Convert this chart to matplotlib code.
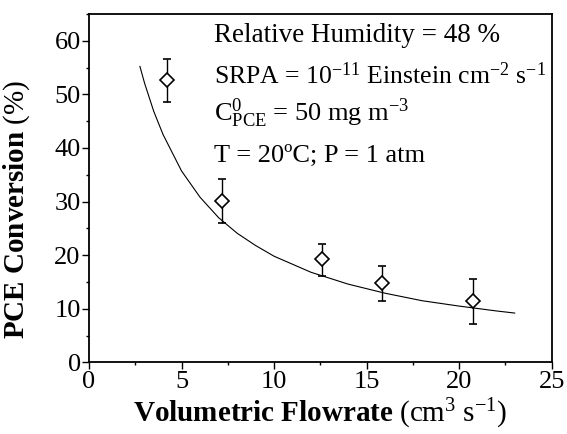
import matplotlib
matplotlib.use("Agg")
import matplotlib.pyplot as plt
from matplotlib.ticker import MultipleLocator

plt.rcParams["font.family"] = ["Liberation Serif", "DejaVu Serif"]
plt.rcParams["mathtext.fontset"] = "custom"
plt.rcParams["mathtext.rm"] = "Liberation Serif"
plt.rcParams["mathtext.it"] = "Liberation Serif:italic"
plt.rcParams["mathtext.bf"] = "Liberation Serif:bold"

# measured points
flowrate = [4.2, 7.2, 12.6, 15.85, 20.75]
conversion = [52.6, 30.1, 19.2, 14.8, 11.4]
err_low = [4.0, 4.1, 3.1, 3.3, 4.3]
err_high = [3.9, 4.1, 2.9, 3.2, 4.1]

# model curve
model_x = [2.75, 3.0, 3.5, 4.0, 5.0, 6.0, 7.0, 8.0, 9.0, 10.0, 12.0, 14.0, 16.0, 18.0, 20.0, 22.0, 23.0]
model_y = [55.2, 52.1, 46.8, 42.5, 35.7, 30.8, 27.0, 24.1, 21.8, 19.8, 16.8, 14.6, 12.9, 11.5, 10.5, 9.6, 9.2]

fig = plt.figure(figsize=(5.67, 4.34), dpi=100)
ax = fig.add_axes([0.157, 0.165, 0.816, 0.803])

ax.plot(model_x, model_y, color="black", lw=0.8)
ax.errorbar(flowrate, conversion, yerr=[err_low, err_high], fmt="D", ms=7,
            mfc="white", mec="black", mew=1.2, ecolor="black", elinewidth=1.0,
            capsize=3, capthick=1.0)

ax.set_xlim(0, 25)
ax.set_ylim(0, 65)
ax.xaxis.set_major_locator(MultipleLocator(5))
ax.xaxis.set_minor_locator(MultipleLocator(2.5))
ax.yaxis.set_major_locator(MultipleLocator(10))
ax.yaxis.set_minor_locator(MultipleLocator(5))
ax.tick_params(which="both", direction="out", top=False, right=False,
               labelsize=19, width=1.0, pad=1)
ax.tick_params(which="major", length=5)
ax.tick_params(which="minor", length=2.5)
for s in ax.spines.values():
    s.set_linewidth(1.3)

ax.set_xlabel(r"$\mathbf{Volumetric\ Flowrate}\ \mathrm{(cm^{3}\ s^{-1})}$", fontsize=21, labelpad=3)
ax.set_ylabel(r"$\mathbf{PCE\ Conversion}\ \mathrm{(\%)}$", fontsize=21)
ax.yaxis.set_label_coords(-0.123, 0.44)

lines = [
    (0.920, "Relative Humidity = 48 %", 19.5),
    (0.799, r"SRPA = 10$^{-11}$ Einstein cm$^{-2}$ s$^{-1}$", 18.5),
    (0.693, r"C$^{0}_{\mathrm{PCE}}$ = 50 mg m$^{-3}$", 19),
    (0.575, "T = 20ºC; P = 1 atm", 19),
]
for y, txt, size in lines:
    ax.text(0.27, y, txt, transform=ax.transAxes, fontsize=size, va="baseline", ha="left")

fig.savefig("out.png", dpi=100)
